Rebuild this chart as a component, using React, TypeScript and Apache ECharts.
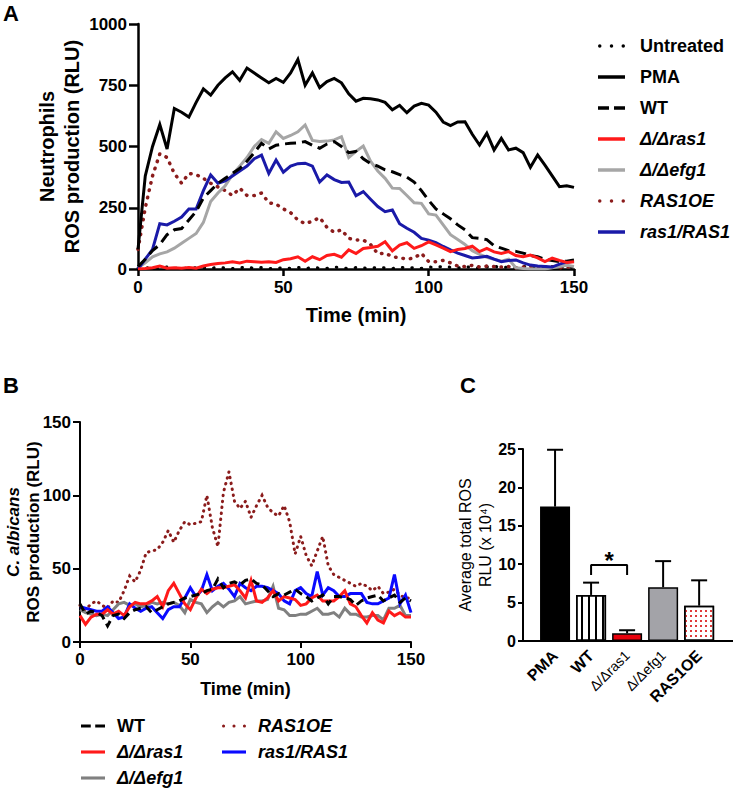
import React, { useEffect, useRef } from 'react';
import * as echarts from 'echarts';

// ---------------- DATA ----------------
const timeMin = [0, 2.5, 5, 7.5, 10, 12.5, 15, 17.5, 20, 22.5, 25, 27.5, 30, 32.5, 35, 37.5, 40, 42.5, 45, 47.5, 50, 52.5, 55, 57.5, 60, 62.5, 65, 67.5, 70, 72.5, 75, 77.5, 80, 82.5, 85, 87.5, 90, 92.5, 95, 97.5, 100, 102.5, 105, 107.5, 110, 112.5, 115, 117.5, 120, 122.5, 125, 127.5, 130, 132.5, 135, 137.5, 140, 142.5, 145, 147.5, 150];

// Panel A – neutrophils ROS (RLU)
const aUntreated = [3, 6, 2, 5, 8, 3, 4, 2, 6, 5, 3, 7, 4, 2, 5, 8, 3, 6, 2, 4, 5, 3, 7, 2, 6, 4, 3, 8, 5, 2, 6, 4, 3, 7, 5, 2, 8, 4, 6, 3, 9, 5, 12, 7, 4, 10, 6, 3, 8, 12, 5, 9, 4, 11, 6, 8, 3, 10, 7, 5, 9];
const aPMA = [80, 380, 500, 590, 490, 655, 640, 620, 680, 735, 710, 750, 780, 805, 770, 820, 800, 780, 760, 778, 762, 800, 855, 750, 800, 740, 765, 778, 760, 715, 685, 697, 695, 690, 680, 650, 668, 638, 665, 676, 669, 640, 600, 585, 600, 601, 550, 506, 554, 486, 533, 486, 493, 475, 415, 465, 424, 380, 336, 340, 333];
const aWT = [10, 40, 75, 100, 140, 160, 165, 200, 235, 290, 320, 350, 370, 390, 410, 440, 475, 513, 490, 505, 510, 513, 515, 520, 505, 493, 510, 520, 500, 475, 480, 450, 430, 420, 405, 397, 385, 375, 355, 320, 280, 245, 225, 205, 180, 160, 128, 125, 120, 95, 85, 75, 72, 65, 55, 50, 40, 35, 30, 32, 37];
const aRas1 = [0, 2, 5, 12, 3, 5, 3, 6, 3, 12, 18, 22, 25, 30, 25, 32, 30, 28, 30, 27, 38, 42, 50, 32, 50, 38, 55, 60, 48, 78, 63, 84, 88, 93, 111, 74, 98, 107, 84, 95, 111, 98, 85, 71, 80, 84, 93, 71, 84, 70, 63, 71, 55, 50, 57, 45, 30, 44, 35, 27, 30];
const aEfg1 = [5, 25, 50, 62, 70, 85, 105, 125, 145, 190, 275, 310, 340, 385, 420, 455, 500, 528, 513, 560, 533, 545, 560, 588, 525, 520, 522, 527, 540, 455, 480, 502, 440, 400, 370, 330, 329, 300, 270, 268, 225, 220, 180, 140, 120, 100, 75, 60, 48, 40, 32, 40, 5, 2, 0, 0, 0, 5, 10, 15, 10];
const aRAS1OE = [80, 250, 380, 470, 455, 390, 350, 390, 385, 370, 350, 335, 320, 300, 330, 300, 300, 310, 270, 265, 245, 230, 200, 185, 195, 210, 170, 150, 160, 125, 118, 118, 100, 62, 65, 50, 46, 40, 45, 64, 30, 30, 35, 25, 12, 10, 15, 8, 12, 10, 8, 10, 5, 8, 10, 5, 8, 10, 5, 8, 10];
const aRas1RAS1 = [0, 40, 80, 185, 180, 195, 212, 245, 245, 320, 384, 350, 360, 380, 400, 420, 450, 465, 390, 445, 395, 420, 430, 432, 420, 355, 384, 365, 353, 355, 299, 316, 285, 255, 234, 241, 185, 166, 150, 125, 118, 108, 92, 78, 65, 55, 45, 48, 52, 40, 30, 35, 37, 25, 16, 12, 10, 8, 20, 28, 32];

// Panel B – C. albicans ROS (RLU)
const bWT = [26, 19, 21, 20, 18, 11, 18, 19, 16, 20, 22, 23, 24, 20, 22, 24, 26, 27, 28, 30, 31, 32, 33, 35, 36, 43, 37, 40, 41, 39, 42, 43, 40, 39, 35, 31, 33, 32, 34, 36, 33, 31, 28, 30, 32, 26, 31, 31, 30, 29, 25, 28, 30, 31, 32, 28, 30, 32, 27, 30, 28];
const bRas1 = [18, 12, 17, 19, 19, 22, 19, 21, 18, 24, 27, 26, 26, 28, 31, 24, 35, 40, 33, 26, 22, 30, 36, 33, 36, 37, 37, 38, 39, 35, 30, 42, 28, 27, 30, 35, 28, 31, 30, 29, 25, 26, 30, 32, 28, 28, 28, 31, 35, 26, 24, 18, 13, 20, 15, 13, 21, 18, 20, 17, 17];
const bEfg1 = [22, 20, 19, 18, 19, 18, 22, 26, 27, 25, 26, 24, 25, 27, 26, 27, 26, 27, 25, 20, 29, 27, 26, 20, 24, 27, 24, 27, 28, 31, 26, 27, 28, 28, 29, 38, 23, 22, 18, 18, 19, 19, 21, 23, 19, 19, 20, 17, 23, 19, 19, 17, 17, 18, 18, 15, 23, 23, 25, 18, 18];
const bRAS1OE = [25, 22, 26, 28, 25, 23, 28, 27, 35, 45, 41, 49, 61, 62, 63, 68, 76, 68, 76, 82, 80, 81, 82, 100, 78, 65, 102, 116, 96, 91, 96, 85, 93, 100, 92, 88, 86, 93, 82, 60, 72, 59, 52, 62, 72, 52, 46, 44, 42, 40, 38, 40, 38, 35, 38, 33, 34, 36, 32, 30, 30];
const bRas1RAS1 = [24, 23, 22, 21, 21, 24, 20, 16, 17, 26, 23, 21, 23, 24, 20, 16, 22, 24, 24, 30, 37, 31, 35, 46, 35, 38, 40, 36, 31, 40, 37, 35, 38, 38, 37, 35, 33, 28, 26, 35, 37, 33, 31, 48, 32, 37, 35, 31, 31, 33, 33, 33, 27, 26, 26, 28, 30, 46, 26, 32, 20];

// Panel C – average total ROS (x 10^4)
const cCategories = ['PMA', 'WT', 'Δ/Δras1', 'Δ/Δefg1', 'RAS1OE'];
const cMeans = [17.5, 6.0, 1.0, 7.0, 4.6];
const cErrors = [7.4, 1.6, 0.4, 3.4, 3.3];
const cSigPair = [1, 2];
const cSigLevel = 9.9;

// Tick values
const aXTicks = [0, 50, 100, 150];
const aYTicks = [0, 250, 500, 750, 1000];
const bYTicks = [0, 50, 100, 150];
const cYTicks = [0, 5, 10, 15, 20, 25];

// ---------------- STYLE ----------------
const FONT = '"Liberation Sans", Arial, Helvetica, sans-serif';
const ITALIC = new Set(['Δ/Δras1', 'Δ/Δefg1', 'RAS1OE', 'ras1/RAS1']);
const B_PREFIX = 'B: ';

const ICON_SOLID = 'path://M0,0h27v3.5h-27z';
const ICON_DASH = 'path://M0,0h11v3.5h-11z M16,0h11v3.5h-11z';
const ICON_DOT =
  'path://M0,1.75a1.75,1.75 0 1,0 3.5,0a1.75,1.75 0 1,0 -3.5,0z M11.75,1.75a1.75,1.75 0 1,0 3.5,0a1.75,1.75 0 1,0 -3.5,0z M23.5,1.75a1.75,1.75 0 1,0 3.5,0a1.75,1.75 0 1,0 -3.5,0z';

const pairs = (ys: number[]) => timeMin.map((t, i) => [t, ys[i]]);

function lineSeries(name: string, ys: number[], idx: number, color: string, width: number, type: any, cap = 'butt', z = 2) {
  return {
    name,
    type: 'line',
    xAxisIndex: idx,
    yAxisIndex: idx,
    data: pairs(ys),
    symbol: 'none',
    showSymbol: false,
    clip: true,
    z,
    itemStyle: { color },
    lineStyle: { color, width, type, cap, join: 'miter' },
  };
}

function valueAxis(gridIndex: number, min: number, max: number, interval: number, o: any) {
  return {
    type: 'value',
    gridIndex,
    min,
    max,
    interval,
    nameMoveOverlap: false,
    splitLine: { show: false },
    axisLine: { show: true, onZero: false, lineStyle: { color: '#000', width: o.lw } },
    axisTick: { show: true, length: o.tick, lineStyle: { color: '#000', width: o.lw } },
    axisLabel: {
      color: '#000', fontSize: o.fs, fontWeight: 'bold', fontFamily: FONT, margin: o.margin,
      formatter: (v: number) => String(v),
    },
  };
}

const legendFormatter = (name: string) => {
  const n = name.startsWith(B_PREFIX) ? name.slice(B_PREFIX.length) : name;
  return ITALIC.has(n) ? `{i|${n}}` : `{n|${n}}`;
};

function legendText(fs: number, pad: number) {
  return {
    color: '#000',
    fontSize: fs,
    fontWeight: 'bold',
    fontFamily: FONT,
    lineHeight: 20,
    padding: [0, 0, 0, pad],
    rich: {
      i: { fontStyle: 'italic', fontWeight: 'bold', fontSize: fs, fontFamily: FONT, color: '#000', lineHeight: 20 },
      n: { fontWeight: 'bold', fontSize: fs, fontFamily: FONT, color: '#000', lineHeight: 20 },
    },
  };
}

export default function App() {
  const ref = useRef<HTMLDivElement>(null);

  useEffect(() => {
    if (!ref.current) return;
    const chart = echarts.init(ref.current, null, { renderer: 'svg' });

    const barStyles = [
      { color: '#000', borderColor: '#000', borderWidth: 1.5 },
      {
        color: '#fff', borderColor: '#000', borderWidth: 1.5,
        decal: { symbol: 'rect', color: '#000', dashArrayX: [1.5, 4.5], dashArrayY: [4, 0], symbolSize: 1 },
      },
      { color: '#e8000b', borderColor: '#000', borderWidth: 1.5 },
      { color: '#a3a3a8', borderColor: '#000', borderWidth: 1.5 },
      {
        color: '#fff', borderColor: '#000', borderWidth: 1.5,
        decal: { symbol: 'rect', color: '#e03a3a', dashArrayX: [1.5, 3], dashArrayY: [1.5, 3], symbolSize: 1 },
      },
    ];

    const legendBase = {
      orient: 'vertical', padding: 0, itemHeight: 3.5, selectedMode: false,
      itemStyle: { borderWidth: 0 },
      formatter: legendFormatter,
    };

    const option: any = {
      animation: false,
      backgroundColor: '#fff',
      textStyle: { fontFamily: FONT },
      title: [
        { text: 'A', left: 3, top: 2, padding: 0, textStyle: { fontSize: 22, fontWeight: 'bold', color: '#000', fontFamily: FONT } },
        { text: 'B', left: 3, top: 374, padding: 0, textStyle: { fontSize: 22, fontWeight: 'bold', color: '#000', fontFamily: FONT } },
        { text: 'C', left: 460, top: 374, padding: 0, textStyle: { fontSize: 22, fontWeight: 'bold', color: '#000', fontFamily: FONT } },
      ],
      grid: [
        { left: 138, top: 24, width: 436, height: 245, containLabel: false },
        { left: 80, top: 422, width: 331, height: 220, containLabel: false },
        { left: 523, top: 449, width: 210, height: 192, containLabel: false },
      ],
      legend: [
        {
          ...legendBase, left: 598, top: 36, itemGap: 11, itemWidth: 27,
          data: [
            { name: 'Untreated', icon: ICON_DOT },
            { name: 'PMA', icon: ICON_SOLID },
            { name: 'WT', icon: ICON_DASH },
            { name: 'Δ/Δras1', icon: ICON_SOLID },
            { name: 'Δ/Δefg1', icon: ICON_SOLID },
            { name: 'RAS1OE', icon: ICON_DOT },
            { name: 'ras1/RAS1', icon: ICON_SOLID },
          ],
          textStyle: legendText(18, 10),
        },
        {
          ...legendBase, left: 81, top: 716, itemGap: 6, itemWidth: 24,
          data: [
            { name: B_PREFIX + 'WT', icon: ICON_DASH },
            { name: B_PREFIX + 'Δ/Δras1', icon: ICON_SOLID },
            { name: B_PREFIX + 'Δ/Δefg1', icon: ICON_SOLID },
          ],
          textStyle: legendText(18, 7),
        },
        {
          ...legendBase, left: 222, top: 716, itemGap: 6, itemWidth: 24,
          data: [
            { name: B_PREFIX + 'RAS1OE', icon: ICON_DOT },
            { name: B_PREFIX + 'ras1/RAS1', icon: ICON_SOLID },
          ],
          textStyle: legendText(18, 7),
        },
      ],
      xAxis: [
        {
          ...valueAxis(0, aXTicks[0], aXTicks[aXTicks.length - 1], aXTicks[1] - aXTicks[0], { lw: 2.5, tick: 7, fs: 17, margin: 10 }),
          name: 'Time (min)', nameLocation: 'middle', nameGap: 36,
          nameTextStyle: { fontSize: 20, fontWeight: 'bold', color: '#000', fontFamily: FONT },
        },
        {
          ...valueAxis(1, aXTicks[0], aXTicks[aXTicks.length - 1], aXTicks[1] - aXTicks[0], { lw: 2, tick: 6, fs: 17, margin: 9 }),
          name: 'Time (min)', nameLocation: 'middle', nameGap: 38,
          nameTextStyle: { fontSize: 18, fontWeight: 'bold', color: '#000', fontFamily: FONT },
        },
        {
          type: 'value', gridIndex: 2, min: -0.89, max: 4.94,
          nameMoveOverlap: false,
          splitLine: { show: false },
          axisLine: { show: true, onZero: false, lineStyle: { color: '#000', width: 2 } },
          axisTick: { show: false },
          axisLabel: {
            customValues: [0, 1, 2, 3, 4],
            rotate: 45,
            margin: 12,
            color: '#000',
            formatter: (v: number) => {
              const n = cCategories[Math.round(v)] ?? '';
              return n.startsWith('Δ') ? `{t|${n}}` : `{b|${n}}`;
            },
            rich: {
              b: { fontSize: 16, fontWeight: 'bold', fontFamily: FONT, color: '#000' },
              t: { fontSize: 14, fontWeight: 'normal', fontFamily: FONT, color: '#000' },
            },
          },
        },
      ],
      yAxis: [
        {
          ...valueAxis(0, aYTicks[0], aYTicks[aYTicks.length - 1], aYTicks[1] - aYTicks[0], { lw: 2.5, tick: 9, fs: 17, margin: 11 }),
          name: 'Neutrophils\nROS production (RLU)', nameLocation: 'middle', nameGap: 54,
          nameTextStyle: { fontSize: 20, fontWeight: 'bold', color: '#000', fontFamily: FONT, lineHeight: 25 },
        },
        {
          ...valueAxis(1, bYTicks[0], bYTicks[bYTicks.length - 1], bYTicks[1] - bYTicks[0], { lw: 2, tick: 7, fs: 17, margin: 9 }),
          name: '{i|C. albicans}\n{b|ROS production (RLU)}', nameLocation: 'middle', nameGap: 37,
          nameTextStyle: {
            fontSize: 17, fontWeight: 'bold', color: '#000', fontFamily: FONT, lineHeight: 20,
            rich: {
              i: { fontSize: 17, fontWeight: 'bold', fontStyle: 'italic', fontFamily: FONT, color: '#000', lineHeight: 20 },
              b: { fontSize: 17, fontWeight: 'bold', fontFamily: FONT, color: '#000', lineHeight: 20 },
            },
          },
        },
        {
          ...valueAxis(2, cYTicks[0], cYTicks[cYTicks.length - 1], cYTicks[1] - cYTicks[0], { lw: 2, tick: 5, fs: 16, margin: 7 }),
          name: 'Average total ROS\nRLU (x 10⁴)', nameLocation: 'middle', nameGap: 28,
          nameTextStyle: { fontSize: 16, fontWeight: 'normal', color: '#000', fontFamily: FONT, lineHeight: 20 },
        },
      ],
      series: [
        // Panel A
        lineSeries('Untreated', aUntreated, 0, '#000', 3, [0.5, 9], 'round', 1),
        lineSeries('RAS1OE', aRAS1OE, 0, '#8b1c1c', 3.5, [0.5, 7], 'round', 2),
        lineSeries('Δ/Δefg1', aEfg1, 0, '#a6a6a6', 3, 'solid', 'butt', 2),
        lineSeries('ras1/RAS1', aRas1RAS1, 0, '#1a1aa8', 3, 'solid', 'butt', 3),
        lineSeries('WT', aWT, 0, '#000', 3, [11, 6], 'butt', 4),
        lineSeries('Δ/Δras1', aRas1, 0, '#ff1a1a', 3, 'solid', 'butt', 4),
        lineSeries('PMA', aPMA, 0, '#000', 3, 'solid', 'butt', 5),
        // Panel B
        lineSeries(B_PREFIX + 'RAS1OE', bRAS1OE, 1, '#8b1c1c', 3, [0.5, 5.5], 'round', 2),
        lineSeries(B_PREFIX + 'Δ/Δefg1', bEfg1, 1, '#808080', 3, 'solid', 'butt', 2),
        lineSeries(B_PREFIX + 'ras1/RAS1', bRas1RAS1, 1, '#0a0aff', 3, 'solid', 'butt', 3),
        lineSeries(B_PREFIX + 'Δ/Δras1', bRas1, 1, '#ff1a1a', 3, 'solid', 'butt', 3),
        lineSeries(B_PREFIX + 'WT', bWT, 1, '#000', 3, [8, 5], 'butt', 4),
        // Panel C bars
        {
          name: 'cBars', type: 'bar', xAxisIndex: 2, yAxisIndex: 2, barWidth: 30, z: 2,
          data: cMeans.map((m, i) => ({ value: [i, m], itemStyle: barStyles[i] })),
        },
        {
          name: 'cErr', type: 'custom', xAxisIndex: 2, yAxisIndex: 2, z: 4,
          data: cMeans.map((m, i) => [i, m, cErrors[i]]),
          renderItem: (params: any, api: any) => {
            const x = api.value(0);
            const m = api.value(1);
            const e = api.value(2);
            const base = api.coord([x, m]);
            const top = api.coord([x, m + e]);
            return {
              type: 'group',
              children: [
                { type: 'line', shape: { x1: base[0], y1: base[1], x2: top[0], y2: top[1] }, style: { stroke: '#000', lineWidth: 2 } },
                { type: 'line', shape: { x1: top[0] - 8, y1: top[1], x2: top[0] + 8, y2: top[1] }, style: { stroke: '#000', lineWidth: 2 } },
              ],
            };
          },
        },
        {
          name: 'cSig', type: 'line', xAxisIndex: 2, yAxisIndex: 2, symbol: 'none', z: 4,
          lineStyle: { color: '#000', width: 2 },
          data: [[cSigPair[0], cSigLevel - 1.3], [cSigPair[0], cSigLevel], [cSigPair[1], cSigLevel], [cSigPair[1], cSigLevel - 1.3]],
        },
        {
          name: 'cStar', type: 'scatter', xAxisIndex: 2, yAxisIndex: 2, symbolSize: 0, z: 5,
          itemStyle: { color: '#000' },
          data: [[(cSigPair[0] + cSigPair[1]) / 2, cSigLevel]],
          label: { show: true, formatter: '*', position: 'inside', offset: [0, -4], fontSize: 24, fontWeight: 'bold', color: '#000', fontFamily: FONT, opacity: 1 },
        },
      ],
    };

    chart.setOption(option);
    return () => chart.dispose();
  }, []);

  return (
    <div
      ref={ref}
      style={{ position: 'fixed', left: 0, top: 0, width: 733, height: 789, background: '#fff' }}
    />
  );
}
